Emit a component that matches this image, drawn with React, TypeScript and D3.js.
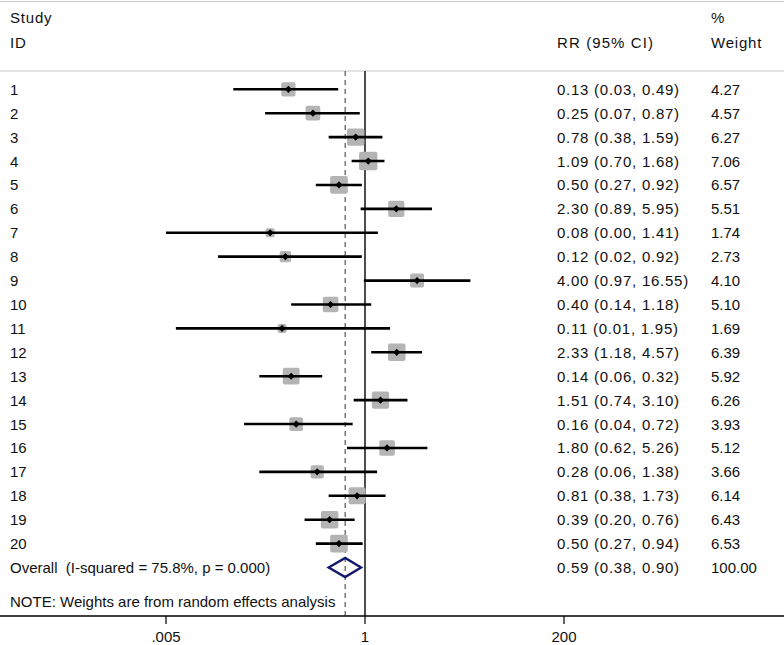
import React from "react";
import * as d3 from "d3";

const studyIds = ["1","2","3","4","5","6","7","8","9","10","11","12","13","14","15","16","17","18","19","20"];
const rr = [0.13,0.25,0.78,1.09,0.50,2.30,0.08,0.12,4.00,0.40,0.11,2.33,0.14,1.51,0.16,1.80,0.28,0.81,0.39,0.50];
const lower = [0.03,0.07,0.38,0.70,0.27,0.89,0.005,0.02,0.97,0.14,0.0065,1.18,0.06,0.74,0.04,0.62,0.06,0.38,0.20,0.27];
const upper = [0.49,0.87,1.59,1.68,0.92,5.95,1.41,0.92,16.55,1.18,1.95,4.57,0.32,3.10,0.72,5.26,1.38,1.73,0.76,0.94];
const ciLabels = [
  "0.13 (0.03, 0.49)","0.25 (0.07, 0.87)","0.78 (0.38, 1.59)","1.09 (0.70, 1.68)","0.50 (0.27, 0.92)",
  "2.30 (0.89, 5.95)","0.08 (0.00, 1.41)","0.12 (0.02, 0.92)","4.00 (0.97, 16.55)","0.40 (0.14, 1.18)",
  "0.11 (0.01, 1.95)","2.33 (1.18, 4.57)","0.14 (0.06, 0.32)","1.51 (0.74, 3.10)","0.16 (0.04, 0.72)",
  "1.80 (0.62, 5.26)","0.28 (0.06, 1.38)","0.81 (0.38, 1.73)","0.39 (0.20, 0.76)","0.50 (0.27, 0.94)"
];
const weights = [4.27,4.57,6.27,7.06,6.57,5.51,1.74,2.73,4.10,5.10,1.69,6.39,5.92,6.26,3.93,5.12,3.66,6.14,6.43,6.53];
const weightLabels = ["4.27","4.57","6.27","7.06","6.57","5.51","1.74","2.73","4.10","5.10","1.69","6.39","5.92","6.26","3.93","5.12","3.66","6.14","6.43","6.53"];

const overall = { rr: 0.59, lo: 0.38, hi: 0.90, label: "0.59 (0.38, 0.90)", weight: "100.00" };
const overallText = "Overall  (I-squared = 75.8%, p = 0.000)";
const noteText = "NOTE: Weights are from random effects analysis";
const tickValues = [0.005, 1, 200];
const tickLabels = [".005", "1", "200"];

const W = 784, H = 645;
const FONT = "'Liberation Sans', Arial, sans-serif";

export default function App() {
  const x = d3.scaleLog().domain([0.005, 200]).range([166, 564]);
  const rowY = d3.scaleLinear().domain([0, 19]).range([89.3, 543.6]);
  const overallY = rowY(20);
  const lineTop = 71;
  const axisY = 616;
  const boxSide = (w: number) => 6.9 * Math.sqrt(w);
  const fs = 15;
  const colRR = 557;
  const colW = 711;
  const ciSpacing = 0.75;
  const hdSpacing = 0.8;
  const dx = x(overall.rr);
  const diamondPath = `M${x(overall.lo)},${overallY} L${dx},${overallY - 9.5} L${x(overall.hi)},${overallY} L${dx},${overallY + 9.5} Z`;

  return (
    <svg width={W} height={H} style={{ position: "absolute", left: 0, top: 0, background: "#fff" }} fontFamily={FONT}>
      <rect x={0} y={0} width={W} height={H} fill="#fff" />
      {/* header lines */}
      <line x1={0} x2={W} y1={1.5} y2={1.5} stroke="#c8c8c8" strokeWidth={1.2} />
      <line x1={0} x2={W} y1={lineTop} y2={lineTop} stroke="#c8c8c8" strokeWidth={1.2} />
      <text x={10} y={23} fontSize={fs} fill="#111" letterSpacing={hdSpacing}>Study</text>
      <text x={10} y={48} fontSize={fs} fill="#111" letterSpacing={hdSpacing}>ID</text>
      <text x={colRR} y={48} fontSize={fs} fill="#111" letterSpacing={1.1}>RR (95% CI)</text>
      <text x={colW} y={23} fontSize={fs} fill="#111">%</text>
      <text x={colW} y={48} fontSize={fs} fill="#111" letterSpacing={hdSpacing}>Weight</text>

      {/* reference lines */}
      <line x1={x(1)} x2={x(1)} y1={lineTop} y2={axisY} stroke="#000" strokeWidth={1.4} />
      <line x1={dx} x2={dx} y1={lineTop} y2={axisY} stroke="#555" strokeWidth={1.2} strokeDasharray="5,4" />

      {/* studies */}
      {rr.map((v, i) => {
        const y = rowY(i);
        const s = boxSide(weights[i]);
        const cx = x(v);
        return (
          <g key={i}>
            <rect x={cx - s / 2} y={y - s / 2} width={s} height={s} rx={2} fill="#b4b4b4" />
            <line x1={x(lower[i])} x2={x(upper[i])} y1={y} y2={y} stroke="#000" strokeWidth={2.6} />
            <path d={`M${cx - 3.6},${y} L${cx},${y - 3.6} L${cx + 3.6},${y} L${cx},${y + 3.6} Z`} fill="#000" />
            <text x={10} y={y + 5.5} fontSize={fs} fill="#111">{studyIds[i]}</text>
            <text x={colRR} y={y + 5.5} fontSize={fs} fill="#111" letterSpacing={ciSpacing}>{ciLabels[i]}</text>
            <text x={colW} y={y + 5.5} fontSize={fs} fill="#111">{weightLabels[i]}</text>
          </g>
        );
      })}

      {/* overall */}
      <path d={diamondPath} fill="none" stroke="#141a6b" strokeWidth={2.4} />
      <text x={10} y={overallY + 5.5} fontSize={fs} fill="#111" style={{ whiteSpace: "pre" }}>{overallText}</text>
      <text x={colRR} y={overallY + 5.5} fontSize={fs} fill="#111" letterSpacing={ciSpacing}>{overall.label}</text>
      <text x={colW} y={overallY + 5.5} fontSize={fs} fill="#111">{overall.weight}</text>

      <text x={10} y={606.5} fontSize={fs} fill="#111">{noteText}</text>

      {/* axis */}
      <line x1={0} x2={W} y1={axisY} y2={axisY} stroke="#000" strokeWidth={1.3} />
      {tickValues.map((t, i) => (
        <g key={i}>
          <line x1={x(t)} x2={x(t)} y1={axisY} y2={axisY + 8} stroke="#000" strokeWidth={1.2} />
          <text x={x(t)} y={642} fontSize={fs} fill="#111" textAnchor="middle">{tickLabels[i]}</text>
        </g>
      ))}
    </svg>
  );
}
